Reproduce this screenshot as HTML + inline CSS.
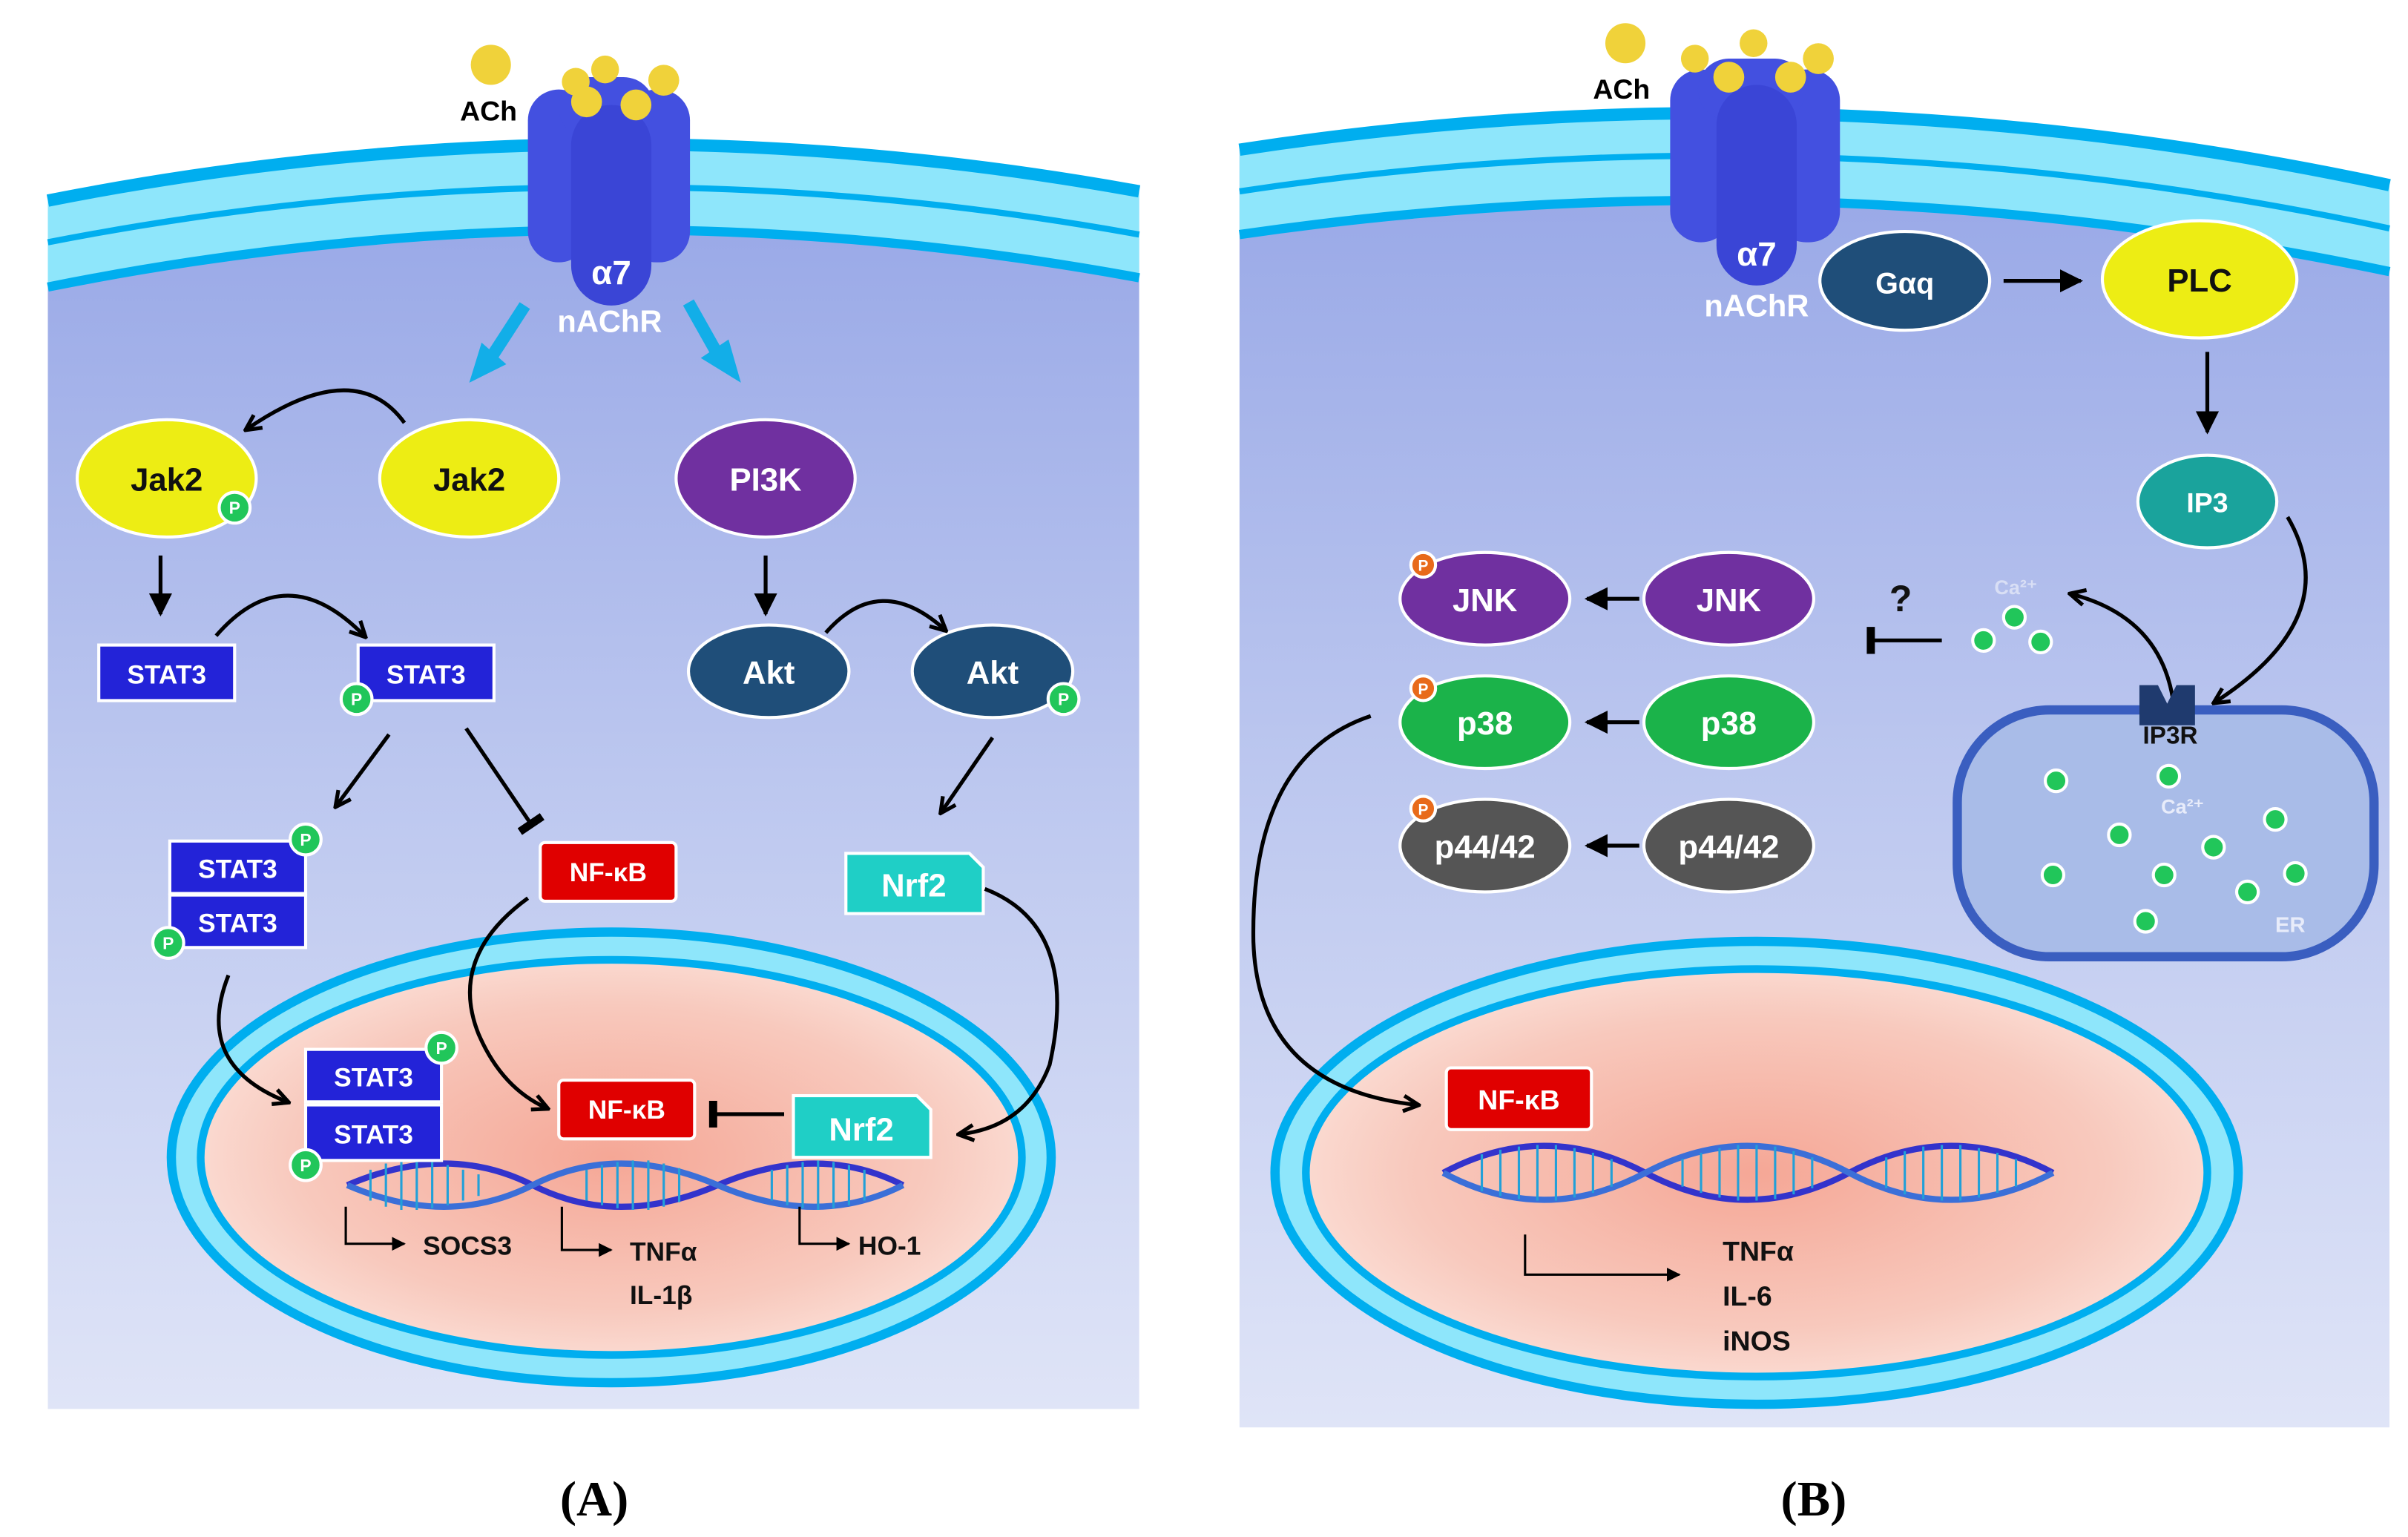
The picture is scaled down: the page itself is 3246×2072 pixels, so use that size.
<!DOCTYPE html>
<html><head><meta charset="utf-8"><style>
html,body{margin:0;padding:0;background:#fff;}
svg{display:block;}
text{font-family:"Liberation Sans",sans-serif;font-weight:bold;}
</style></head><body>
<svg width="3246" height="2072" viewBox="0 0 1560 996" preserveAspectRatio="none" xmlns="http://www.w3.org/2000/svg">
<defs>
<linearGradient id="cyto" x1="0" y1="0" x2="0" y2="1"><stop offset="0" stop-color="#95a5e6"/><stop offset="0.5" stop-color="#bcc7ef"/><stop offset="1" stop-color="#dfe4f7"/></linearGradient>
<radialGradient id="nuc" cx="0.5" cy="0.5" r="0.55"><stop offset="0" stop-color="#f5a796"/><stop offset="0.7" stop-color="#f8c9bd"/><stop offset="1" stop-color="#fbe0d8"/></radialGradient>
<marker id="ar" viewBox="0 0 10 10" refX="8" refY="5" markerWidth="5" markerHeight="5" orient="auto"><path d="M1,1 L9,5 L1,9" fill="none" stroke="#000" stroke-width="2"/></marker>
<marker id="at" viewBox="0 0 10 10" refX="9" refY="5" markerWidth="6" markerHeight="6" orient="auto"><path d="M0,0 L10,5 L0,10 Z" fill="#000"/></marker>
<marker id="bar" viewBox="0 0 4 10" refX="2" refY="5" markerWidth="3" markerHeight="7" orient="auto"><path d="M2,0 V10" stroke="#000" stroke-width="3"/></marker>
</defs>

<!-- PANEL A -->
<path d="M31,130 Q385,60 738,124 V913 H31 Z" fill="url(#cyto)"/>
<path d="M31,130 Q385,60 738,124 L738,180 Q385,115 31,186 Z" fill="#8ee6fb"/>
<path d="M31,130 Q385,60 738,124" fill="none" stroke="#00aeef" stroke-width="8"/>
<path d="M31,157 Q385,88 738,152" fill="none" stroke="#00aeef" stroke-width="4"/>
<path d="M31,186 Q385,115 738,180" fill="none" stroke="#00aeef" stroke-width="6"/>
<ellipse cx="396" cy="750" rx="285" ry="146" fill="#8ee6fb" stroke="#00aeef" stroke-width="6"/>
<ellipse cx="396" cy="750" rx="266" ry="128" fill="url(#nuc)" stroke="#00aeef" stroke-width="5"/>
<!-- receptor A -->
<g fill="#4350e0">
<rect x="342" y="58" width="40" height="112" rx="20"/><rect x="405" y="58" width="42" height="112" rx="20"/>
<rect x="362" y="50" width="62" height="40" rx="20"/>
<rect x="370" y="68" width="52" height="130" rx="26" fill="#3a45d6"/>
</g>
<g fill="#f0d23a"><circle cx="392" cy="45" r="9"/><circle cx="373" cy="53" r="9"/><circle cx="430" cy="52" r="10"/><circle cx="380" cy="66" r="10"/><circle cx="412" cy="68" r="10"/><circle cx="318" cy="42" r="13"/></g>
<text x="298" y="78" font-size="18" fill="#000">ACh</text>
<text x="396" y="184" font-size="22" fill="#fff" text-anchor="middle">α7</text>
<text x="395" y="215" font-size="20" fill="#fff" text-anchor="middle">nAChR</text>
<g stroke="#12aee8" stroke-width="8"><line x1="340" y1="198" x2="318" y2="232"/><line x1="446" y1="196" x2="464" y2="228"/></g>
<path d="M304,248 L312,222 L328,236 Z" fill="#12aee8"/><path d="M480,248 L454,232 L472,220 Z" fill="#12aee8"/>
<!-- Jak2 -->
<ellipse cx="108" cy="310" rx="58" ry="38" fill="#eded14" stroke="#fff" stroke-width="2"/>
<text x="108" y="318" font-size="21" text-anchor="middle" fill="#111">Jak2</text>
<ellipse cx="304" cy="310" rx="58" ry="38" fill="#eded14" stroke="#fff" stroke-width="2"/>
<text x="304" y="318" font-size="21" text-anchor="middle" fill="#111">Jak2</text>
<ellipse cx="496" cy="310" rx="58" ry="38" fill="#7030a0" stroke="#fff" stroke-width="2"/>
<text x="496" y="318" font-size="21" text-anchor="middle" fill="#fff">PI3K</text>
<path d="M262,274 Q230,230 160,278" fill="none" stroke="#000" stroke-width="2.5" marker-end="url(#ar)"/>
<g stroke="#000" stroke-width="2.5" marker-end="url(#at)"><line x1="104" y1="360" x2="104" y2="398"/><line x1="496" y1="360" x2="496" y2="398"/></g>
<!-- STAT3 -->
<rect x="64" y="418" width="88" height="36" fill="#2323d8" stroke="#fff" stroke-width="2"/><text x="108" y="443" font-size="17" fill="#fff" text-anchor="middle">STAT3</text>
<rect x="232" y="418" width="88" height="36" fill="#2323d8" stroke="#fff" stroke-width="2"/><text x="276" y="443" font-size="17" fill="#fff" text-anchor="middle">STAT3</text>
<path d="M140,412 Q185,360 236,412" fill="none" stroke="#000" stroke-width="2.5" marker-end="url(#ar)"/>
<ellipse cx="498" cy="435" rx="52" ry="30" fill="#1f4e79" stroke="#fff" stroke-width="2"/><text x="498" y="443" font-size="21" fill="#fff" text-anchor="middle">Akt</text>
<ellipse cx="643" cy="435" rx="52" ry="30" fill="#1f4e79" stroke="#fff" stroke-width="2"/><text x="643" y="443" font-size="21" fill="#fff" text-anchor="middle">Akt</text>
<path d="M535,410 Q570,370 612,408" fill="none" stroke="#000" stroke-width="2.5" marker-end="url(#ar)"/>
<g stroke="#000" stroke-width="2.5" fill="none">
<line x1="252" y1="476" x2="218" y2="522" marker-end="url(#ar)"/>
<line x1="302" y1="472" x2="344" y2="534" marker-end="url(#bar)"/>
<line x1="643" y1="478" x2="610" y2="526" marker-end="url(#ar)"/>
</g>
<rect x="110" y="545" width="88" height="34" fill="#2323d8" stroke="#fff" stroke-width="2"/><text x="154" y="569" font-size="17" fill="#fff" text-anchor="middle">STAT3</text>
<rect x="110" y="580" width="88" height="34" fill="#2323d8" stroke="#fff" stroke-width="2"/><text x="154" y="604" font-size="17" fill="#fff" text-anchor="middle">STAT3</text>
<rect x="350" y="546" width="88" height="38" rx="3" fill="#e00000" stroke="#fff" stroke-width="2"/><text x="394" y="571" font-size="17" fill="#fff" text-anchor="middle">NF-κB</text>
<path d="M548,553 H628 L637,562 V592 H548 Z" fill="#1fcfc6" stroke="#fff" stroke-width="2"/><text x="592" y="581" font-size="21" fill="#fff" text-anchor="middle">Nrf2</text>
<!-- DNA A -->
<g fill="none" stroke="#3333cc" stroke-width="4"><path d="M225,768 Q290,740 345,768 T465,768 T585,768"/><path d="M225,768 Q290,796 345,768 T465,768 T585,768" stroke="#3b6fd8"/></g>
<g stroke="#22a0d8" stroke-width="1.5"><path d="M240,758V778M250,754V782M260,752V784M270,752V784M280,753V783M290,755V781M300,758V778M310,761V775M380,758V778M390,755V781M400,753V783M410,752V784M420,752V784M430,754V782M440,757V779M500,758V778M510,755V781M520,753V783M530,752V784M540,753V783M550,755V781M560,758V778"/></g>
<rect x="198" y="680" width="88" height="34" fill="#2323d8" stroke="#fff" stroke-width="2"/><text x="242" y="704" font-size="17" fill="#fff" text-anchor="middle">STAT3</text>
<rect x="198" y="716" width="88" height="36" fill="#2323d8" stroke="#fff" stroke-width="2"/><text x="242" y="741" font-size="17" fill="#fff" text-anchor="middle">STAT3</text>
<rect x="362" y="700" width="88" height="38" rx="3" fill="#e00000" stroke="#fff" stroke-width="2"/><text x="406" y="725" font-size="17" fill="#fff" text-anchor="middle">NF-κB</text>
<path d="M514,710 H594 L603,719 V750 H514 Z" fill="#1fcfc6" stroke="#fff" stroke-width="2"/><text x="558" y="739" font-size="21" fill="#fff" text-anchor="middle">Nrf2</text>
<g fill="none" stroke="#000" stroke-width="2.5">
<path d="M148,632 Q125,690 186,714" marker-end="url(#ar)"/>
<path d="M342,582 Q290,620 310,670 Q325,705 354,718" marker-end="url(#ar)"/>
<path d="M638,576 Q700,600 680,690 Q665,730 622,735" marker-end="url(#ar)"/>
<line x1="508" y1="722" x2="462" y2="722" marker-end="url(#bar)"/>
<path d="M224,782 V806 H262" marker-end="url(#at)" stroke-width="1.5"/>
<path d="M364,782 V810 H396" marker-end="url(#at)" stroke-width="1.5"/>
<path d="M518,782 V806 H550" marker-end="url(#at)" stroke-width="1.5"/>
</g>
<text x="274" y="813" font-size="17" fill="#111">SOCS3</text>
<text x="408" y="817" font-size="17" fill="#111">TNFα</text>
<text x="408" y="845" font-size="17" fill="#111">IL-1β</text>
<text x="556" y="813" font-size="17" fill="#111">HO-1</text>
<!-- P badges -->
<g fill="#21c65a" stroke="#fff" stroke-width="2"><circle cx="152" cy="329" r="10"/><circle cx="231" cy="453" r="10"/><circle cx="689" cy="453" r="10"/><circle cx="198" cy="544" r="10"/><circle cx="109" cy="611" r="10"/><circle cx="286" cy="679" r="10"/><circle cx="198" cy="755" r="10"/></g>
<g font-size="11" fill="#fff" text-anchor="middle"><text x="152" y="333">P</text><text x="231" y="457">P</text><text x="689" y="457">P</text><text x="198" y="548">P</text><text x="109" y="615">P</text><text x="286" y="683">P</text><text x="198" y="759">P</text></g>

<!-- PANEL B -->
<path d="M803,97 Q1175,40 1548,120 V925 H803 Z" fill="url(#cyto)"/>
<path d="M803,97 Q1175,40 1548,120 L1548,176 Q1175,98 803,152 Z" fill="#8ee6fb"/>
<path d="M803,97 Q1175,40 1548,120" fill="none" stroke="#00aeef" stroke-width="8"/>
<path d="M803,124 Q1175,68 1548,148" fill="none" stroke="#00aeef" stroke-width="4"/>
<path d="M803,152 Q1175,98 1548,176" fill="none" stroke="#00aeef" stroke-width="6"/>
<ellipse cx="1138" cy="760" rx="312" ry="150" fill="#8ee6fb" stroke="#00aeef" stroke-width="6"/>
<ellipse cx="1138" cy="760" rx="292" ry="132" fill="url(#nuc)" stroke="#00aeef" stroke-width="5"/>
<g fill="#4350e0">
<rect x="1082" y="45" width="40" height="112" rx="20"/><rect x="1150" y="45" width="42" height="112" rx="20"/>
<rect x="1100" y="38" width="70" height="40" rx="20"/>
<rect x="1112" y="55" width="52" height="130" rx="26" fill="#3a45d6"/>
</g>
<g fill="#f0d23a"><circle cx="1136" cy="28" r="9"/><circle cx="1098" cy="38" r="9"/><circle cx="1178" cy="38" r="10"/><circle cx="1120" cy="50" r="10"/><circle cx="1160" cy="50" r="10"/><circle cx="1053" cy="28" r="13"/></g>
<text x="1032" y="64" font-size="18" fill="#000">ACh</text>
<text x="1138" y="172" font-size="22" fill="#fff" text-anchor="middle">α7</text>
<text x="1138" y="205" font-size="20" fill="#fff" text-anchor="middle">nAChR</text>
<ellipse cx="1234" cy="182" rx="55" ry="32" fill="#1f4e79" stroke="#fff" stroke-width="2"/><text x="1234" y="190" font-size="19" fill="#fff" text-anchor="middle">Gαq</text>
<ellipse cx="1425" cy="181" rx="63" ry="38" fill="#eded14" stroke="#fff" stroke-width="2"/><text x="1425" y="189" font-size="21" fill="#111" text-anchor="middle">PLC</text>
<ellipse cx="1430" cy="325" rx="45" ry="30" fill="#1aa39c" stroke="#fff" stroke-width="2"/><text x="1430" y="332" font-size="18" fill="#fff" text-anchor="middle">IP3</text>
<g fill="none" stroke="#000" stroke-width="2.5">
<line x1="1298" y1="182" x2="1348" y2="182" marker-end="url(#at)"/>
<line x1="1430" y1="228" x2="1430" y2="280" marker-end="url(#at)"/>
<path d="M1482,335 Q1520,400 1435,455" marker-end="url(#ar)"/>
<path d="M1408,455 Q1400,400 1342,385" marker-end="url(#ar)"/>
<line x1="1258" y1="415" x2="1212" y2="415" marker-end="url(#bar)"/>
<line x1="1062" y1="388" x2="1028" y2="388" marker-end="url(#at)"/>
<line x1="1062" y1="468" x2="1028" y2="468" marker-end="url(#at)"/>
<line x1="1062" y1="548" x2="1028" y2="548" marker-end="url(#at)"/>
<path d="M888,464 Q810,490 812,610 Q815,705 918,716" marker-end="url(#ar)"/>
<path d="M988,800 V826 H1088" marker-end="url(#at)" stroke-width="1.5"/>
</g>
<text x="1224" y="396" font-size="24" fill="#111" font-weight="normal">?</text>
<text x="1292" y="385" font-size="13" fill="#d9dff5">Ca²⁺</text>
<g fill="#21c65a" stroke="#fff" stroke-width="2"><circle cx="1285" cy="415" r="7"/><circle cx="1305" cy="400" r="7"/><circle cx="1322" cy="416" r="7"/></g>
<!-- ER -->
<rect x="1268" y="460" width="270" height="160" rx="60" fill="#a9bce8" stroke="#3a5ec0" stroke-width="6"/>
<path d="M1386,444 h12 l6,12 l6,-12 h12 v26 h-36 Z" fill="#1f3a6e"/>
<text x="1406" y="482" font-size="16" fill="#111" text-anchor="middle">IP3R</text>
<text x="1400" y="527" font-size="13" fill="#e8ecfa">Ca²⁺</text>
<text x="1474" y="604" font-size="14" fill="#e8ecfa">ER</text>
<g fill="#21c65a" stroke="#fff" stroke-width="2"><circle cx="1332" cy="506" r="7"/><circle cx="1405" cy="503" r="7"/><circle cx="1373" cy="541" r="7"/><circle cx="1434" cy="549" r="7"/><circle cx="1474" cy="531" r="7"/><circle cx="1330" cy="567" r="7"/><circle cx="1402" cy="567" r="7"/><circle cx="1456" cy="578" r="7"/><circle cx="1487" cy="566" r="7"/><circle cx="1390" cy="597" r="7"/></g>
<!-- MAPKs -->
<g stroke="#fff" stroke-width="2">
<ellipse cx="962" cy="388" rx="55" ry="30" fill="#7030a0"/><ellipse cx="1120" cy="388" rx="55" ry="30" fill="#7030a0"/>
<ellipse cx="962" cy="468" rx="55" ry="30" fill="#1bb34a"/><ellipse cx="1120" cy="468" rx="55" ry="30" fill="#1bb34a"/>
<ellipse cx="962" cy="548" rx="55" ry="30" fill="#555"/><ellipse cx="1120" cy="548" rx="55" ry="30" fill="#555"/>
</g>
<g font-size="21" fill="#fff" text-anchor="middle">
<text x="962" y="396">JNK</text><text x="1120" y="396">JNK</text>
<text x="962" y="476">p38</text><text x="1120" y="476">p38</text>
<text x="962" y="556">p44/42</text><text x="1120" y="556">p44/42</text>
</g>
<g fill="#e86a1a" stroke="#fff" stroke-width="2"><circle cx="922" cy="366" r="8"/><circle cx="922" cy="446" r="8"/><circle cx="922" cy="524" r="8"/></g>
<g font-size="10" fill="#fff" text-anchor="middle"><text x="922" y="370">P</text><text x="922" y="450">P</text><text x="922" y="528">P</text></g>
<!-- DNA B -->
<g fill="none" stroke-width="4"><path d="M935,760 Q1000,725 1066,760 T1198,760 T1330,760" stroke="#3333cc"/><path d="M935,760 Q1000,795 1066,760 T1198,760 T1330,760" stroke="#3b6fd8"/></g>
<g stroke="#22a0d8" stroke-width="1.5"><path d="M960,748V772M972,745V775M984,743V777M996,742V778M1008,742V778M1020,744V776M1032,747V773M1044,751V769M1090,751V769M1102,747V773M1114,744V776M1126,742V778M1138,742V778M1150,743V777M1162,746V774M1174,750V770M1222,750V770M1234,746V774M1246,743V777M1258,742V778M1270,742V778M1282,744V776M1294,747V773M1306,751V769"/></g>
<rect x="937" y="692" width="94" height="40" rx="3" fill="#e00000" stroke="#fff" stroke-width="2"/><text x="984" y="719" font-size="18" fill="#fff" text-anchor="middle">NF-κB</text>
<text x="1116" y="817" font-size="18" fill="#111">TNFα</text>
<text x="1116" y="846" font-size="18" fill="#111">IL-6</text>
<text x="1116" y="875" font-size="18" fill="#111">iNOS</text>

<text x="385" y="982" font-size="32" font-family="Liberation Serif" fill="#000" text-anchor="middle" style="font-family:'Liberation Serif',serif">(A)</text>
<text x="1175" y="982" font-size="32" fill="#000" text-anchor="middle" style="font-family:'Liberation Serif',serif">(B)</text>
</svg>
</body></html>
